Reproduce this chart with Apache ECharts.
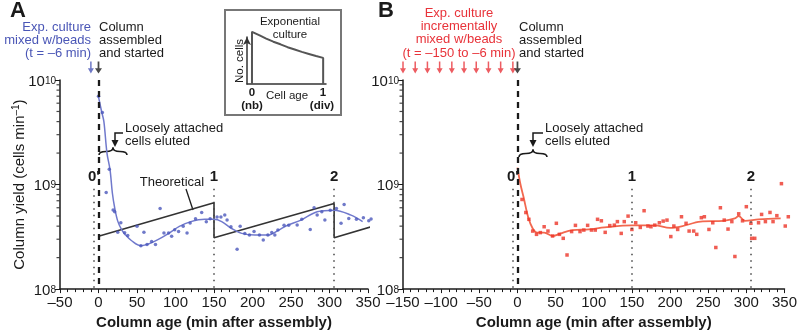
<!DOCTYPE html>
<html><head><meta charset="utf-8">
<script src="https://cdn.jsdelivr.net/npm/echarts@6/dist/echarts.min.js"></script>
<style>html,body{margin:0;padding:0;background:#fff}#c{width:800px;height:335px}</style>
</head><body><div id="c"></div>
<script>
// ---------- DATA ----------
const theoX = [0, 150, 150, 306, 306, 355];
const theoY = [3.2e8, 6.7e8, 3.1e8, 6.6e8, 3.1e8, 3.97e8];

const curveAx = [0, 4, 7, 11, 15, 18, 21, 25, 30, 35, 43, 55, 70, 88, 105, 120, 138, 150, 160, 173, 186, 203, 220, 234, 244, 263, 284, 306, 328, 343];
const curveAy = [6.9e9, 5.0e9, 4.0e9, 2.0e9, 1.38e9, 8.3e8, 6.0e8, 4.47e8, 3.7e8, 3.3e8, 2.9e8, 2.6e8, 2.8e8, 3.3e8, 3.98e8, 4.42e8, 4.65e8, 4.65e8, 4.42e8, 3.8e8, 3.41e8, 3.29e8, 3.29e8, 3.67e8, 4.03e8, 4.57e8, 5.5e8, 5.69e8, 5.1e8, 4.42e8];

const pointsAx = [0, 5, 10, 14, 19, 21, 25, 29, 34, 38, 50, 55, 59, 63, 69, 74, 80, 85, 91, 95, 99, 104, 110, 115, 119, 126, 134, 140, 145, 154, 159, 164, 167, 172, 180, 184, 190, 196, 202, 209, 214, 220, 225, 229, 233, 241, 247, 258, 264, 275, 280, 284, 290, 294, 301, 309, 315, 319, 325, 335, 344, 351, 354];
const pointsAy = [7.0e9, 4.9e9, 8.4e8, 1.4e9, 5.7e8, 5.5e8, 3.5e8, 4.3e8, 3.45e8, 3.25e8, 4.0e8, 2.6e8, 3.5e8, 2.67e8, 2.86e8, 2.67e8, 5.9e8, 3.44e8, 3.44e8, 3.2e8, 3.7e8, 3.56e8, 4.0e8, 3.44e8, 4.28e8, 4.7e8, 5.4e8, 4.4e8, 4.7e8, 4.9e8, 4.9e8, 5.1e8, 4.57e8, 3.95e8, 2.4e8, 4.0e8, 3.4e8, 3.29e8, 3.55e8, 3.29e8, 2.95e8, 3.29e8, 3.47e8, 3.29e8, 3.67e8, 4.09e8, 4.07e8, 4.1e8, 4.65e8, 3.72e8, 6.0e8, 5.1e8, 5.5e8, 4.57e8, 5.69e8, 5.9e8, 4.26e8, 6.45e8, 4.74e8, 4.65e8, 4.82e8, 4.5e8, 4.68e8];

const curveBx = [0, 4, 8, 14, 20, 26, 35, 46, 55, 72, 94, 114, 150, 180, 200, 215, 240, 270, 285, 290, 298, 316, 345];
const curveBy = [1.45e9, 1.0e9, 7.6e8, 4.9e8, 3.8e8, 3.47e8, 3.47e8, 3.22e8, 3.37e8, 3.67e8, 3.72e8, 3.89e8, 4.07e8, 4.07e8, 3.85e8, 3.98e8, 4.42e8, 4.5e8, 4.74e8, 5.0e8, 4.5e8, 4.65e8, 4.74e8];

const pointsBx = [6, 11, 15, 20, 25, 30, 35, 40, 46, 51, 55, 60, 65, 71, 76, 82, 87, 92, 97, 102, 105, 110, 115, 121, 127, 131, 136, 140, 145, 150, 155, 161, 166, 171, 175, 180, 186, 191, 196, 201, 205, 210, 215, 221, 225, 231, 235, 241, 245, 251, 256, 260, 266, 271, 276, 281, 285, 290, 295, 300, 306, 307, 311, 316, 320, 325, 331, 335, 340, 346, 351, 355];
const pointsBy = [7.2e8, 5.4e8, 4.65e8, 3.59e8, 3.34e8, 3.47e8, 3.95e8, 3.59e8, 3.22e8, 4.26e8, 3.34e8, 3.06e8, 2.12e8, 3.55e8, 4.07e8, 3.55e8, 3.67e8, 4.07e8, 3.67e8, 3.67e8, 4.65e8, 4.5e8, 3.49e8, 4.05e8, 4.09e8, 4.42e8, 3.41e8, 4.42e8, 4.99e8, 3.72e8, 4.31e8, 3.89e8, 5.62e8, 4.01e8, 3.95e8, 4.09e8, 4.31e8, 4.47e8, 4.57e8, 3.18e8, 4.01e8, 3.72e8, 4.92e8, 4.26e8, 3.59e8, 3.59e8, 3.34e8, 4.82e8, 4.92e8, 3.72e8, 4.31e8, 2.5e8, 6.0e8, 4.57e8, 3.75e8, 4.42e8, 2.05e8, 5.25e8, 4.5e8, 6.14e8, 4.26e8, 3.06e8, 3.06e8, 4.31e8, 5.18e8, 4.42e8, 5.41e8, 4.42e8, 5.04e8, 1.02e9, 4.01e8, 4.92e8];

const mixTimeA = [-6];
const mixTimesB = [-150, -134, -118, -102, -86, -70, -54, -38, -22, -6];
const startTime = [0];
const divisionTimes = [-6, 150, 306];
const divisionLabels = ["0'", "1", "2"];
const yMinorTicks = [2e8,3e8,4e8,5e8,6e8,7e8,8e8,9e8,2e9,3e9,4e9,5e9,6e9,7e9,8e9,9e9];

const insetAge = [0, 0, 0.1, 0.2, 0.3, 0.4, 0.5, 0.6, 0.7, 0.8, 0.9, 1, 1];
const insetCells = [0, 2.0, 1.87, 1.74, 1.62, 1.52, 1.41, 1.32, 1.23, 1.15, 1.07, 1.0, 0];

// ---------- CHART ----------
const FONT = "'Liberation Sans', Arial, Helvetica, sans-serif";
const zip = (a, b) => a.map((v, i) => [v, b[i]]);
const ARROW = 'path://M3,0 L5,0 L5,8 L8,8 L4,14 L0,8 L3,8 Z';
const ARROW_Y = 1.32e10;
const BLUE = '#4b57bb', BLUE_L = '#7079cc', RED = '#ec3528', RED_L = '#f2684f', INK = '#1a1a1a';

function xAxisCfg(gi, min) {
  return {
    type: 'value', gridIndex: gi, min: min, max: 350, interval: 50,
    axisLine: { show: true, onZero: false, lineStyle: { color: INK, width: 1.5 } },
    axisTick: { show: true, length: 4, lineStyle: { color: INK } },
    minorTick: { show: true, splitNumber: 5, length: 3, lineStyle: { color: INK } },
    splitLine: { show: false }, minorSplitLine: { show: false },
    axisLabel: { fontSize: 15, color: INK, margin: 6, fontFamily: FONT,
      formatter: v => String(v).replace('-', '\u2013') },
    name: 'Column age (min after assembly)', nameLocation: 'middle', nameGap: 23,
    nameTextStyle: { fontSize: 15, fontWeight: 'bold', color: INK, fontFamily: FONT }
  };
}
function yAxisCfg(gi, withName) {
  const c = {
    type: 'log', logBase: 10, gridIndex: gi, min: 1e8, max: 1e10,
    axisLine: { show: true, onZero: false, lineStyle: { color: INK, width: 1.5 } },
    axisTick: { show: true, length: 5, lineStyle: { color: INK } },
    splitLine: { show: false },
    axisLabel: { margin: 4, color: INK, fontFamily: FONT,
      formatter: v => '{b|10}{s|' + Math.round(Math.log10(v)) + '}',
      rich: { b: { fontSize: 15, lineHeight: 18, padding: [6, 0, 0, 0], verticalAlign: 'bottom', color: INK, fontFamily: FONT },
              s: { fontSize: 10, lineHeight: 8, padding: [5, 0, 0, 0], verticalAlign: 'top', color: INK, fontFamily: FONT } } }
  };
  if (withName) {
    c.name = 'Column yield (cells min{s|\u20131})';
    c.nameLocation = 'middle'; c.nameRotate = 90; c.nameGap = 31; c.nameMoveOverlap = false;
    c.nameTextStyle = { fontSize: 15, color: INK, fontFamily: FONT, lineHeight: 18,
      rich: { s: { fontSize: 10, lineHeight: 10, verticalAlign: 'top', color: INK, fontFamily: FONT } } };
  }
  return c;
}
function markLines() {
  const d = [[{ coord: [0, 1e10], lineStyle: { type: [6, 5], width: 2.3, color: INK }, label: { show: false } },
              { coord: [0, 1e8] }]];
  divisionTimes.forEach((t, i) => {
    d.push([{ coord: [t, 9.1e8], name: divisionLabels[i],
              lineStyle: { type: [1.5, 5], width: 1.5, color: '#444' },
              label: { show: true, position: 'start', formatter: '{b}', distance: 4,
                       fontSize: 15, fontWeight: 'bold', color: INK, fontFamily: FONT } },
            { coord: [t, 1e8] }]);
  });
  return { silent: true, symbol: ['none', 'none'], animation: false, data: d };
}
function arrowSeries(xi, times, color, size, off) {
  return { type: 'scatter', xAxisIndex: xi, yAxisIndex: xi, data: times.map(t => [t, ARROW_Y]),
    symbol: ARROW, symbolSize: size, symbolOffset: [off || 0, 0], itemStyle: { color: color }, clip: false, silent: true, z: 5 };
}
function minorTickSeries(xi, xmin) {
  return { type: 'scatter', xAxisIndex: xi, yAxisIndex: xi, data: yMinorTicks.map(v => [xmin, v]),
    symbol: 'rect', symbolSize: [3, 1.2], symbolOffset: [-2, 0], itemStyle: { color: INK },
    clip: false, silent: true };
}

function brace(xl, xr, yTip, yEnd, yMid) {
  const xm = (xl + xr) / 2, q = (xr - xl) / 4;
  const st = { stroke: INK, lineWidth: 1.6, fill: null };
  return [
    { type: 'bezierCurve', shape: { x1: xl, y1: yEnd, x2: xl + q, y2: yMid, cpx1: xl, cpy1: yMid }, style: st },
    { type: 'bezierCurve', shape: { x1: xl + q, y1: yMid, x2: xm, y2: yTip, cpx1: xm, cpy1: yMid }, style: st },
    { type: 'bezierCurve', shape: { x1: xm, y1: yTip, x2: xr - q, y2: yMid, cpx1: xm, cpy1: yMid }, style: st },
    { type: 'bezierCurve', shape: { x1: xr - q, y1: yMid, x2: xr, y2: yEnd, cpx1: xr, cpy1: yMid }, style: st }
  ];
}
function bentArrow(x1, x2, y1, y2) {
  return [
    { type: 'polyline', shape: { points: [[x1, y1], [x2, y1], [x2, y2 - 5]] }, style: { stroke: INK, lineWidth: 1.5, fill: null } },
    { type: 'polygon', shape: { points: [[x2 - 3.5, y2 - 6], [x2 + 3.5, y2 - 6], [x2, y2 + 1]] }, style: { fill: INK } }
  ];
}
function txt(x, y, text, o) {
  return Object.assign({ type: 'text', x: x, y: y, silent: true,
    style: Object.assign({ text: text, fill: INK, fontSize: 13, fontFamily: FONT, align: 'left', verticalAlign: 'top', lineHeight: 13.3 }, o || {}) });
}

const graphic = [].concat(
  [txt(10, 4, 'A', { fontSize: 22, fontWeight: 'bold' }),
   txt(378, 4, 'B', { fontSize: 22, fontWeight: 'bold' }),
   txt(91, 20.5, 'Exp. culture\nmixed w/beads\n(t = \u20136 min)', { align: 'right', fill: '#4a56b6' }),
   txt(99, 20.5, 'Column\nassembled\nand started'),
   txt(459, 6.5, 'Exp. culture\nincrementally\nmixed w/beads\n(t = \u2013150 to \u20136 min)', { align: 'center', fill: '#e8333a' }),
   txt(519, 20.5, 'Column\nassembled\nand started'),
   txt(125, 121.5, 'Loosely attached\ncells eluted'),
   txt(545, 121.5, 'Loosely attached\ncells eluted'),
   txt(172, 182, 'Theoretical', { align: 'center', verticalAlign: 'middle' }),
   { type: 'line', shape: { x1: 186, y1: 189, x2: 193, y2: 210 }, style: { stroke: INK, lineWidth: 1.3 } },
   // inset
   { type: 'rect', shape: { x: 225, y: 10, width: 116, height: 105 }, style: { fill: null, stroke: '#777', lineWidth: 2 } },
   txt(290, 15.5, 'Exponential\nculture', { align: 'center', fontSize: 11.5, lineHeight: 13 }),
   { type: 'text', x: 240, y: 61, rotation: Math.PI / 2, silent: true,
     style: { text: 'No. cells', fill: INK, fontSize: 11.5, fontFamily: FONT, align: 'center', verticalAlign: 'middle' } },
   txt(252, 93, '0', { align: 'center', verticalAlign: 'middle', fontSize: 11.5, fontWeight: 'bold' }),
   txt(252, 106, '(nb)', { align: 'center', verticalAlign: 'middle', fontSize: 11.5, fontWeight: 'bold' }),
   txt(323, 93, '1', { align: 'center', verticalAlign: 'middle', fontSize: 11.5, fontWeight: 'bold' }),
   txt(322, 106, '(div)', { align: 'center', verticalAlign: 'middle', fontSize: 11.5, fontWeight: 'bold' }),
   txt(287, 96, 'Cell age', { align: 'center', verticalAlign: 'middle', fontSize: 11.5 })
  ],
  brace(99, 127, 147.5, 155, 151.5),
  brace(519, 547, 149.5, 157, 153.5),
  bentArrow(123, 115, 133, 146),
  bentArrow(543, 533, 133, 146)
);

const chart = echarts.init(document.getElementById('c'), null, { renderer: 'canvas' });
chart.setOption({
  animation: false,
  backgroundColor: '#fff',
  textStyle: { fontFamily: FONT },
  grid: [
    { left: 60, top: 80, width: 308, height: 211 },
    { left: 403, top: 80, width: 386, height: 211 },
    { left: 247, top: 37, width: 79, height: 47 }
  ],
  xAxis: [xAxisCfg(0, -50), xAxisCfg(1, -150),
    { type: 'value', gridIndex: 2, min: -0.07, max: 1.04, axisLine: { show: true, onZero: false, lineStyle: { color: '#333', width: 1.5 } },
      axisTick: { show: false }, axisLabel: { show: false }, splitLine: { show: false } }],
  yAxis: [yAxisCfg(0, true), yAxisCfg(1, false),
    { type: 'value', gridIndex: 2, min: 0, max: 1.8,
      axisLine: { show: true, onZero: false, symbol: ['none', 'arrow'], symbolSize: [6, 8], lineStyle: { color: '#333', width: 1.5 } },
      axisTick: { show: false }, axisLabel: { show: false }, splitLine: { show: false } }],
  graphic: graphic,
  series: [
    { type: 'line', xAxisIndex: 0, yAxisIndex: 0, data: zip(theoX, theoY), symbol: 'none', clip: false,
      lineStyle: { color: '#333', width: 1.6 }, markLine: markLines(), z: 3 },
    { type: 'line', xAxisIndex: 0, yAxisIndex: 0, data: zip(curveAx, curveAy), symbol: 'none', smooth: 0.35, clip: false,
      lineStyle: { color: BLUE_L, width: 1.5 }, z: 4 },
    { type: 'scatter', xAxisIndex: 0, yAxisIndex: 0, data: zip(pointsAx, pointsAy), symbolSize: 3.5, clip: false,
      itemStyle: { color: BLUE }, z: 4 },
    arrowSeries(0, mixTimeA, '#4a56b6', [6, 12], -3),
    arrowSeries(0, startTime, INK, [7, 12], 0),
    minorTickSeries(0, -50),

    { type: 'line', xAxisIndex: 1, yAxisIndex: 1, data: zip(curveBx, curveBy), symbol: 'none', smooth: 0.35, clip: false,
      lineStyle: { color: RED_L, width: 1.8 }, markLine: markLines(), z: 4 },
    { type: 'scatter', xAxisIndex: 1, yAxisIndex: 1, data: zip(pointsBx, pointsBy), symbol: 'rect', symbolSize: 3.5, clip: false,
      itemStyle: { color: RED }, z: 4 },
    arrowSeries(1, mixTimesB, '#e8333a', [6, 12], 0),
    arrowSeries(1, startTime, INK, [7, 12], 0),
    minorTickSeries(1, -150),

    { type: 'line', xAxisIndex: 2, yAxisIndex: 2, data: zip(insetAge, insetCells), symbol: 'none', clip: false,
      lineStyle: { color: '#555', width: 2 } }
  ]
});
</script></body></html>
